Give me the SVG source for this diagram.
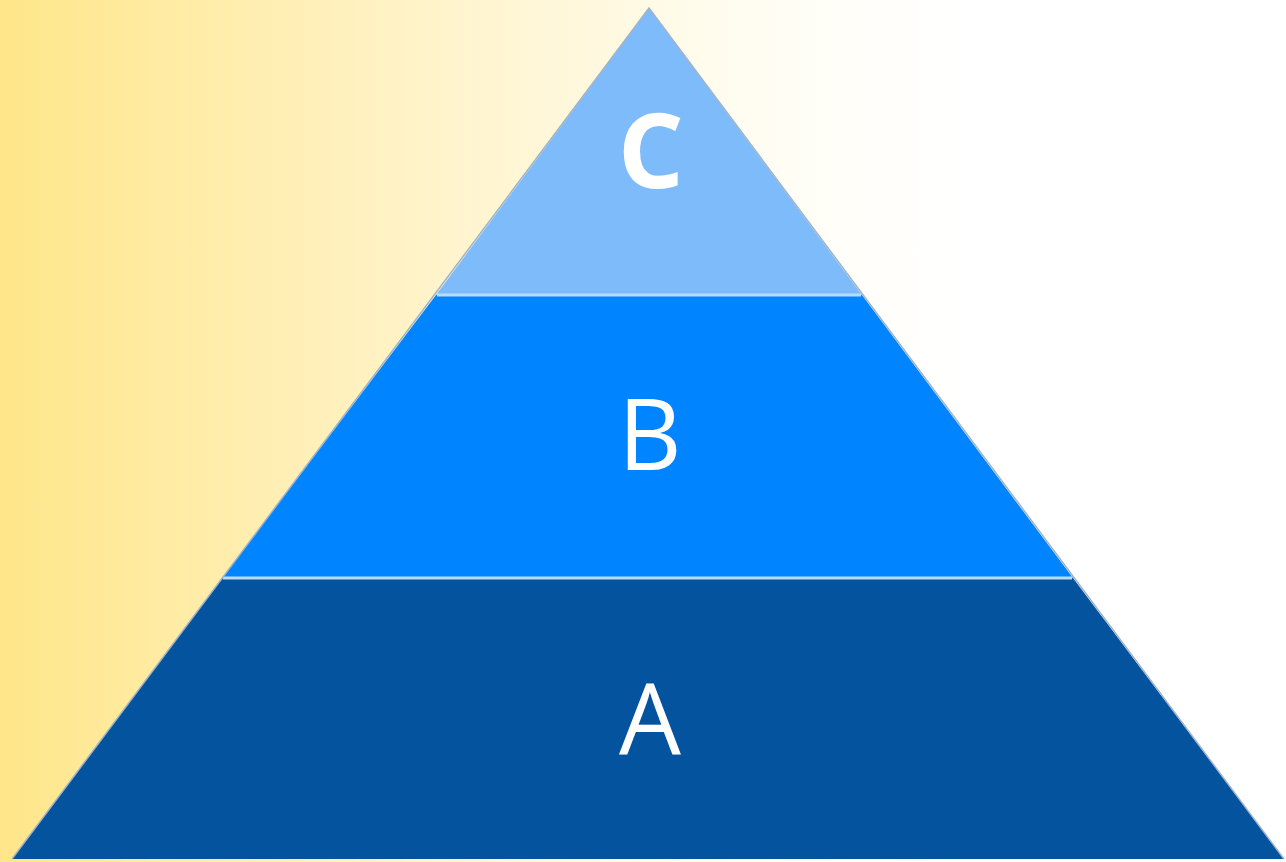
<svg xmlns="http://www.w3.org/2000/svg" width="1286" height="862" viewBox="0 0 1286 862">
<defs>
<linearGradient id="bg" x1="0" y1="0" x2="1" y2="0">
<stop offset="0" stop-color="#FFE68A"/>
<stop offset="0.3" stop-color="#FFF2C4"/>
<stop offset="0.58" stop-color="#FFFDF2"/>
<stop offset="0.75" stop-color="#FFFFFF"/>
<stop offset="1" stop-color="#FFFFFF"/>
</linearGradient>
</defs>
<style>
.lbl{font-family:"Open Sans","Liberation Sans",sans-serif;fill:#FFFFFF;text-anchor:middle}
.sep{stroke:#B8DCFF;stroke-width:3}
.edge{stroke:#9FB3C8;stroke-width:1.5;fill:none}
</style>
<rect x="0" y="0" width="1286" height="862" fill="url(#bg)"/>
<g id="tierC">
<polygon points="649,8 862,295 436,295" fill="#7EBBFA"/>
<text class="lbl" x="651" y="188" font-size="104" font-weight="bold">C</text>
</g>
<g id="tierB">
<polygon points="436,295 862,295 1073,578 222,578" fill="#0084FF"/>
<text class="lbl" x="650" y="470" font-size="98">B</text>
</g>
<g id="tierA">
<polygon points="222,578 1073,578 1284,859 12,859" fill="#03539E"/>
<text class="lbl" x="650" y="754" font-size="98">A</text>
</g>
<g id="connectors">
<line class="sep" x1="437" y1="295" x2="861" y2="295"/>
<line class="sep" x1="223" y1="578" x2="1072" y2="578"/>
<polyline class="edge" points="12,859 649,8 1284,859"/>
</g>
</svg>
